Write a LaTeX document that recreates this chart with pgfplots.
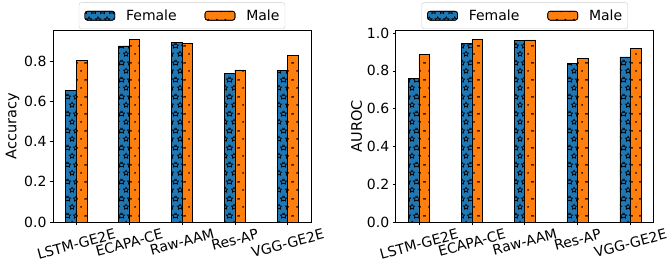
\documentclass[border=0pt]{standalone}
\usepackage{fontspec}
\setmainfont{DejaVu Sans}
\usepackage{graphicx}
\usepackage{pgfplots}
\pgfplotsset{compat=1.18}
\usetikzlibrary{patterns.meta}
\definecolor{tabblue}{HTML}{1F77B4}
\definecolor{taborange}{HTML}{FF7F0E}

\tikzdeclarepattern{
  name=mplstars,
  type=uncolored,
  bottom left={(0pt,0pt)},
  top right={(8.5pt,17pt)},
  tile size={(8.5pt,17pt)},
  code={
    \draw[line width=0.7pt, shift={(4.25pt,4.25pt)}] (90:2.9pt) -- (126:1.45pt) -- (162:2.9pt) -- (198:1.45pt) -- (234:2.9pt) -- (270:1.45pt) -- (306:2.9pt) -- (342:1.45pt) -- (18:2.9pt) -- (54:1.45pt) -- cycle;
    \draw[line width=0.7pt, shift={(0pt,12.75pt)}] (90:2.9pt) -- (126:1.45pt) -- (162:2.9pt) -- (198:1.45pt) -- (234:2.9pt) -- (270:1.45pt) -- (306:2.9pt) -- (342:1.45pt) -- (18:2.9pt) -- (54:1.45pt) -- cycle;
    \draw[line width=0.7pt, shift={(8.5pt,12.75pt)}] (90:2.9pt) -- (126:1.45pt) -- (162:2.9pt) -- (198:1.45pt) -- (234:2.9pt) -- (270:1.45pt) -- (306:2.9pt) -- (342:1.45pt) -- (18:2.9pt) -- (54:1.45pt) -- cycle;
  }
}
\tikzdeclarepattern{
  name=mpldots,
  type=uncolored,
  bottom left={(0pt,0pt)},
  top right={(8.5pt,17pt)},
  tile size={(8.5pt,17pt)},
  code={
    \fill (4.25pt,4.25pt) circle (1pt);
    \fill (0pt,12.75pt) circle (1pt);
    \fill (8.5pt,12.75pt) circle (1pt);
  }
}

\pgfplotsset{
  mystyle/.style={
    scale only axis, width=258pt, height=192pt,
    anchor=south west,
    xmin=-0.44, xmax=4.44, ymin=0,
    xtick={0,1,2,3,4},
    xticklabels={\rotatebox{15}{LSTM-GE2E},\rotatebox{15}{ECAPA-CE},\rotatebox{15}{Raw-AAM},\rotatebox{15}{Res-AP},\rotatebox{15}{VGG-GE2E}},
    tick align=outside, tick pos=left, major tick length=3pt,
    axis line style={line width=0.6pt},
    every tick/.style={black, line width=0.6pt},
    tick label style={font=\fontsize{14}{17}\selectfont},
    label style={font=\fontsize{14.5}{17}\selectfont},
    ylabel shift=-2pt,
    yticklabel style={/pgf/number format/.cd, fixed, fixed zerofill, precision=1, assume math mode=true},
    legend style={at={(0.5,1)}, anchor=south, yshift=1pt, legend columns=2,
      draw=black!20, rounded corners=2.5pt, font=\fontsize{14}{17}\selectfont,
      nodes={inner sep=0pt}, inner xsep=5.5pt, inner ysep=7pt,
      /tikz/every odd column/.append style={column sep=11pt},
      /tikz/every even column/.append style={column sep=28pt}},
    legend image code/.code={\draw[#1] (0pt,-4.5pt) rectangle (30pt,4.5pt);},
  },
  fem/.style={ybar, bar width=0.2, bar shift=-0.1, fill=tabblue, draw=black, line width=0.6pt, postaction={pattern=mplstars}},
  mal/.style={ybar, bar width=0.2, bar shift=0.1, fill=taborange, draw=black, line width=0.6pt, postaction={pattern=mpldots}},
}

\begin{document}
\begin{tikzpicture}
\path[use as bounding box] (0,0) rectangle (668pt,262pt);
\begin{axis}[mystyle, at={(53pt,40pt)}, ymax=0.955, ytick={0,0.2,0.4,0.6,0.8}, ylabel={Accuracy}]
\addplot[fem] coordinates {(0,0.656) (1,0.876) (2,0.894) (3,0.739) (4,0.754)};
\addlegendentry{Female}
\addplot[mal] coordinates {(0,0.802) (1,0.908) (2,0.888) (3,0.757) (4,0.830)};
\addlegendentry{Male}
\end{axis}
\begin{axis}[mystyle, at={(395.7pt,40pt)}, ymax=1.016, ytick={0,0.2,0.4,0.6,0.8,1.0}, ylabel={AUROC}]
\addplot[fem] coordinates {(0,0.761) (1,0.947) (2,0.963) (3,0.839) (4,0.874)};
\addlegendentry{Female}
\addplot[mal] coordinates {(0,0.885) (1,0.968) (2,0.964) (3,0.867) (4,0.917)};
\addlegendentry{Male}
\end{axis}
\end{tikzpicture}
\end{document}
